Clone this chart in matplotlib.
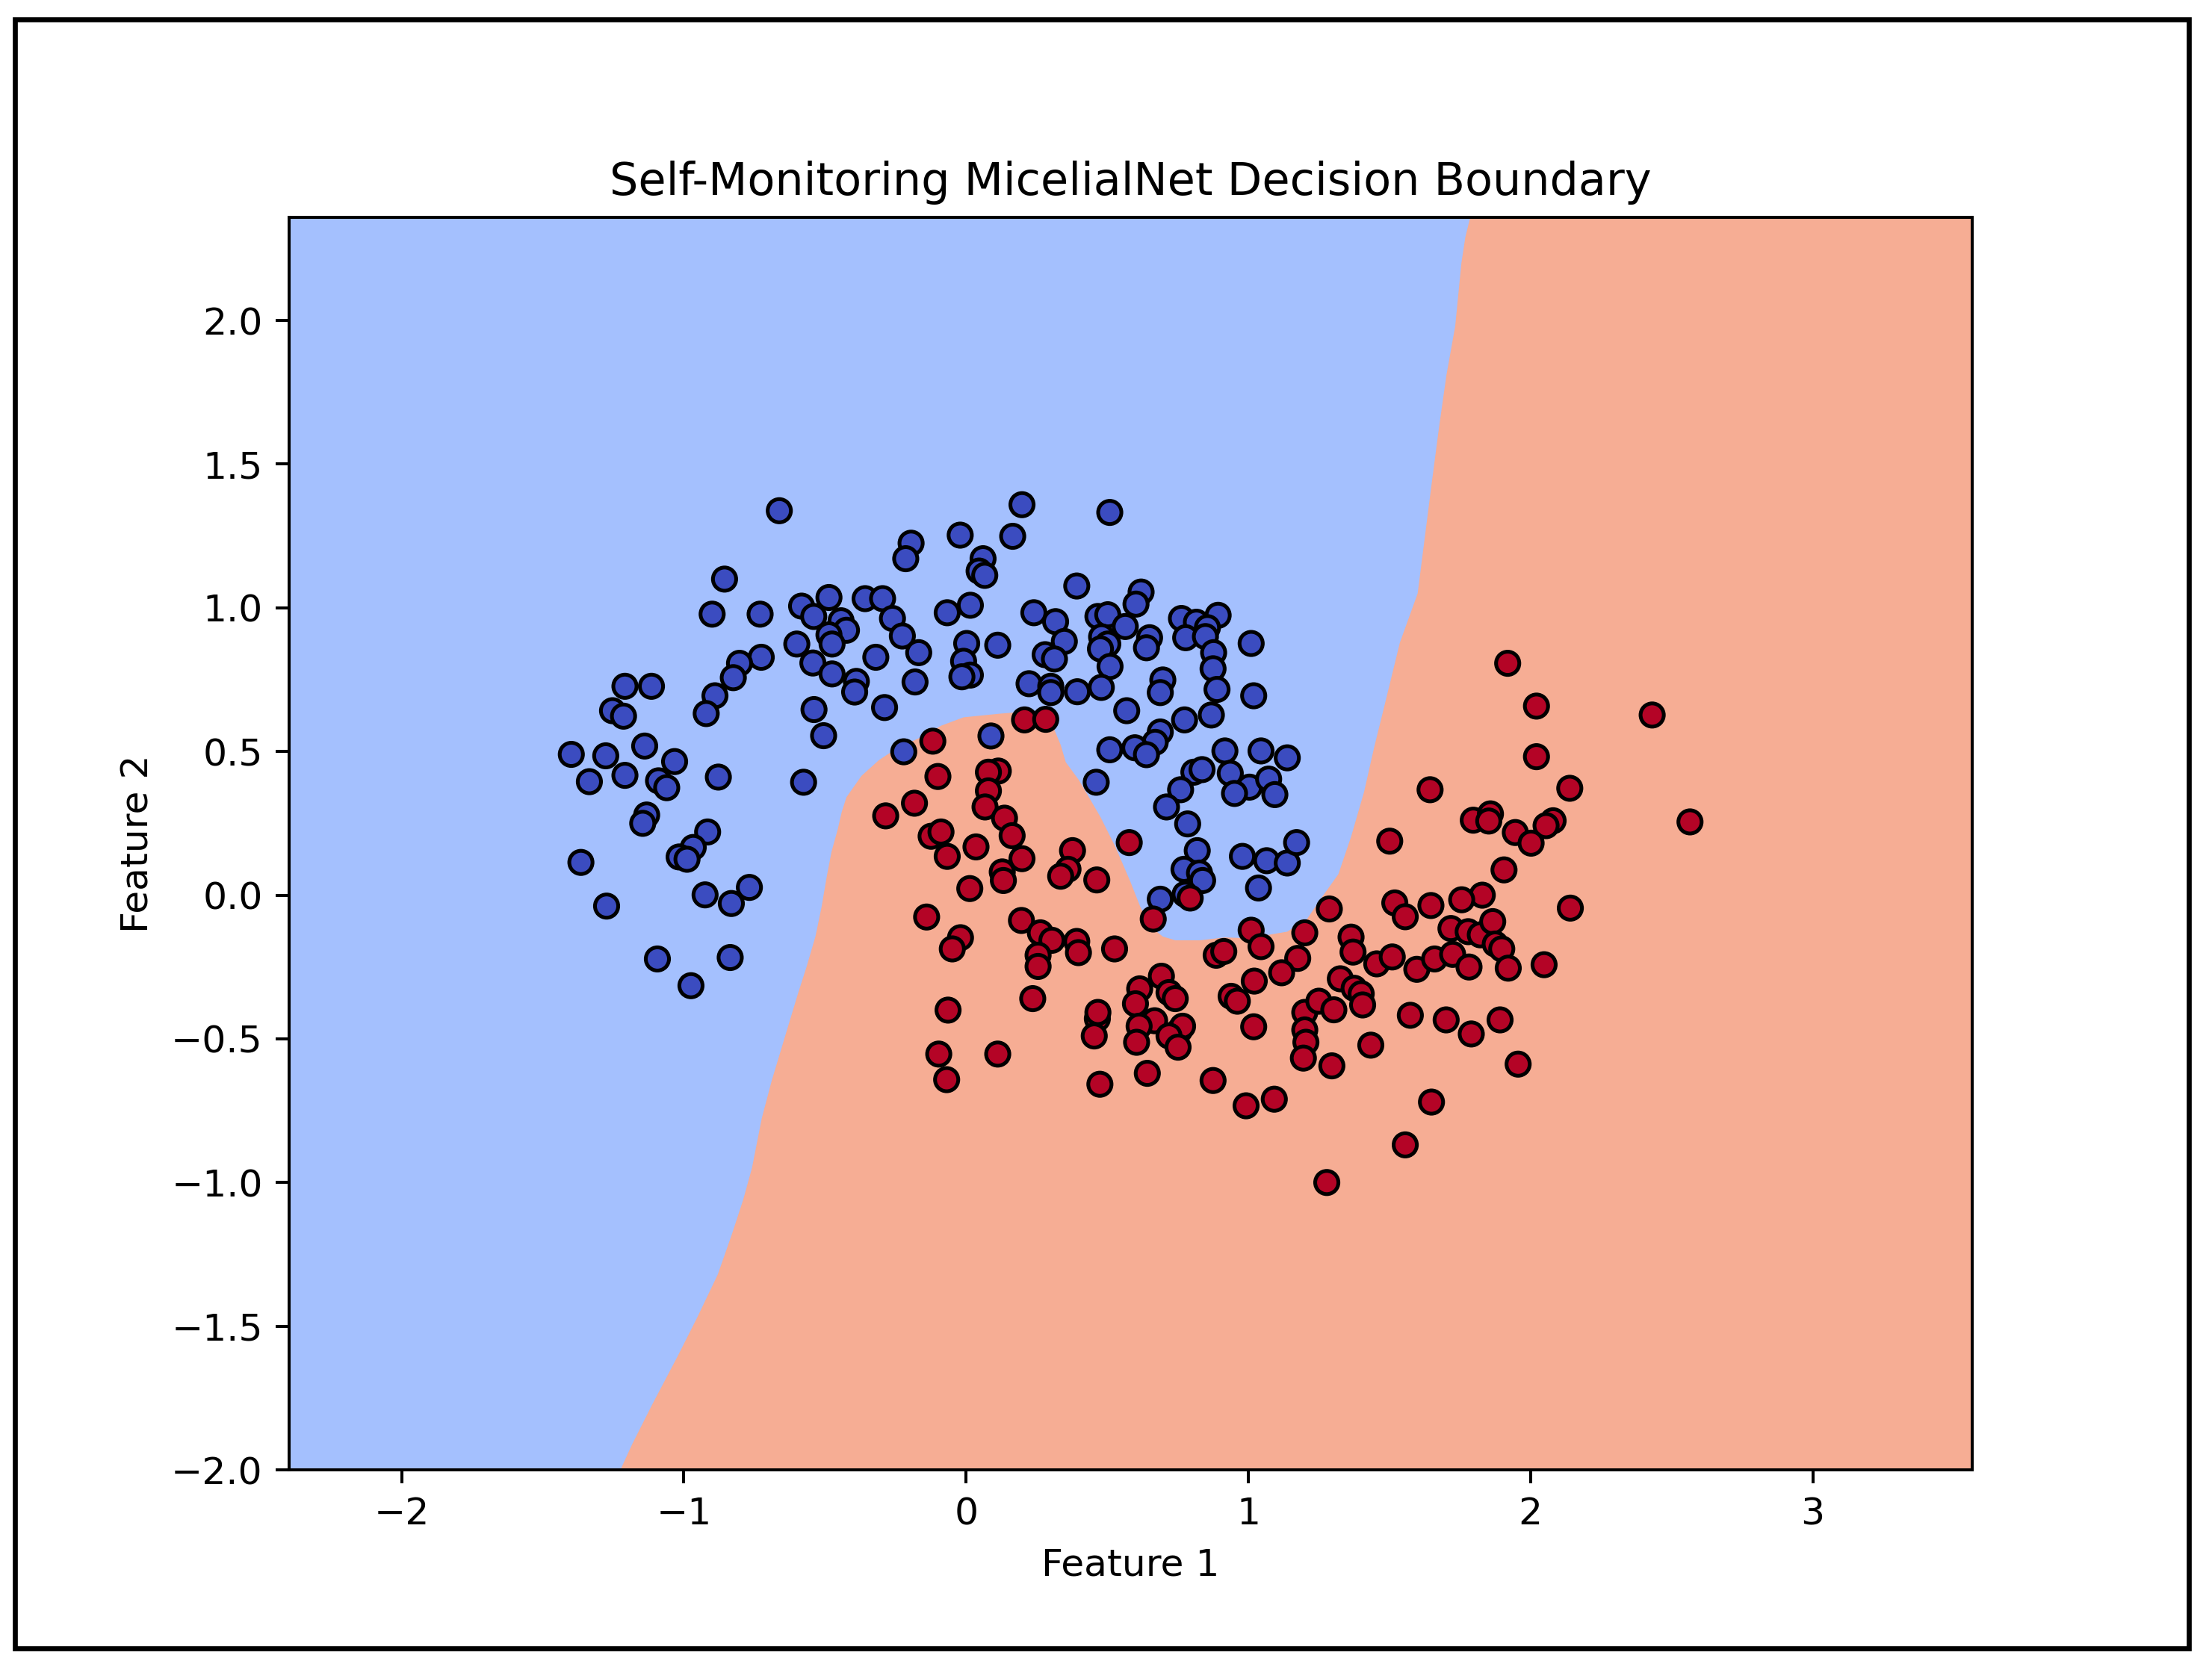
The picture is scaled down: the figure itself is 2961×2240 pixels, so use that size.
#!/usr/bin/env python
# decision boundary plot - two moons, classifier regions + samples

import numpy as np
import matplotlib
matplotlib.use("Agg")
import matplotlib.pyplot as plt
from matplotlib.patches import Rectangle

# class 0 samples (x, y)
blue_x = [-0.662, -0.195, -0.214, -0.856, -0.900, -0.730, -0.583, -0.486, -0.358, -0.296,
          -0.540, -0.443, -0.424, -0.486, -0.261, -0.226, -0.600, -0.475, -0.543, -0.475,
          -0.389, -0.395, -0.320, -0.168, -0.181, -0.289, -0.539, -0.505, -0.221, -0.726,
          -0.803, -0.825, -0.890, -0.921, -1.209, -1.115, -1.253, -1.214, -1.139, -1.399,
          -1.277, -1.033,
          -1.335, -1.209, -1.090, -1.061, -0.878, -0.576, -1.132, -1.146, -0.916, -0.967,
          -1.017, -0.989, -1.365, -0.925, -0.832, -0.768, -1.274, -1.094, -0.836, -0.975,
          0.198, 0.509, -0.021, 0.165, 0.060, 0.046, 0.066, 0.392, 0.620, 0.602,
          -0.067, 0.015, 0.240, 0.317, 0.467, 0.502, 0.564, 0.763, 0.816, 0.893,
          0.855, 0.778, 0.848, 1.010, 0.002, 0.112, 0.348, 0.480, 0.502, 0.476,
          0.650, 0.639, -0.009, 0.015, -0.015, 0.280, 0.313, 0.510, 0.877, 0.875,
          0.889, 1.019, 0.697, 0.688, 0.223, 0.300, 0.300, 0.394, 0.479, 0.569,
          0.774, 0.869, 0.688, 0.670, 0.088, 0.509, 0.598, 0.639, 0.917, 1.045,
          1.138,
          0.461, 0.807, 0.836, 0.760, 0.710, 0.936, 1.004, 0.951, 1.072, 1.094,
          0.785, 0.819, 0.772, 0.827, 0.838, 0.776, 0.688, 0.979, 1.065, 1.138,
          1.171, 1.036]
blue_y = [1.338, 1.225, 1.171, 1.100, 0.978, 0.978, 1.006, 1.036, 1.032, 1.032,
          0.970, 0.955, 0.922, 0.906, 0.963, 0.902, 0.874, 0.874, 0.808, 0.770,
          0.744, 0.707, 0.828, 0.844, 0.742, 0.653, 0.646, 0.555, 0.499, 0.828,
          0.807, 0.757, 0.694, 0.632, 0.727, 0.727, 0.642, 0.623, 0.519, 0.490,
          0.485, 0.465,
          0.395, 0.417, 0.398, 0.374, 0.411, 0.393, 0.279, 0.250, 0.220, 0.166,
          0.133, 0.125, 0.114, 0.001, -0.029, 0.027, -0.038, -0.222, -0.217, -0.315,
          1.359, 1.332, 1.253, 1.249, 1.171, 1.128, 1.113, 1.076, 1.055, 1.013,
          0.983, 1.009, 0.983, 0.952, 0.970, 0.976, 0.935, 0.963, 0.950, 0.974,
          0.931, 0.896, 0.900, 0.876, 0.876, 0.870, 0.883, 0.899, 0.874, 0.857,
          0.896, 0.861, 0.814, 0.766, 0.760, 0.837, 0.822, 0.796, 0.844, 0.788,
          0.716, 0.694, 0.749, 0.705, 0.736, 0.727, 0.705, 0.708, 0.723, 0.642,
          0.610, 0.627, 0.568, 0.532, 0.554, 0.506, 0.513, 0.489, 0.502, 0.502,
          0.478,
          0.393, 0.428, 0.437, 0.367, 0.307, 0.424, 0.376, 0.354, 0.404, 0.350,
          0.248, 0.155, 0.090, 0.077, 0.051, 0.003, -0.014, 0.135, 0.120, 0.112,
          0.183, 0.025]

# class 1 samples (x, y)
red_x = [-0.118, 0.207, 0.282, -0.285, -0.183, -0.124, -0.089, -0.067, -0.100, -0.140,
         0.578, 0.794, 0.663, 0.114, 0.079, 0.079, 0.067, 0.136, 0.163, 0.198,
         0.035, 0.128, 0.132, 0.013, 0.377, 0.361, 0.335, 0.463, 0.196, 0.263,
         0.304, 0.255, 0.255, 0.392, 0.398, 0.526, -0.020, -0.049, 0.236, -0.064,
         0.692, 0.615, 0.719, 0.600, 0.741, 1.010, 1.045, 0.886, 0.913, 1.200,
         1.175, 1.118, 1.021, 0.939, 0.961,
         -0.097, -0.069, 0.112, 0.465, 0.467, 0.454, 0.474, 0.668, 0.613, 0.604,
         0.756, 0.767, 0.719, 0.751, 0.642, 0.875, 1.019, 0.992, 1.092, 1.200,
         1.200, 1.204, 1.195,
         1.919, 2.021, 2.431, 2.021, 1.644, 2.139, 1.797, 1.858, 1.852, 1.946,
         2.080, 2.055, 2.002, 2.565, 1.501, 1.906, 1.829, 1.756, 1.647, 1.519,
         1.287, 2.141,
         1.556, 1.364, 1.371, 1.455, 1.510, 1.597, 1.660, 1.724, 1.782, 1.718,
         1.779, 1.822, 1.866, 1.875, 1.898, 1.921, 2.048, 1.326, 1.375, 1.400,
         1.405, 1.250, 1.303, 1.296, 1.434, 1.574, 1.701, 1.790, 1.892, 1.956,
         1.649, 1.556, 1.278]
red_y = [0.536, 0.610, 0.612, 0.276, 0.320, 0.205, 0.220, 0.135, 0.413, -0.076,
         0.183, -0.010, -0.083, 0.432, 0.428, 0.363, 0.307, 0.268, 0.207, 0.127,
         0.168, 0.081, 0.051, 0.023, 0.155, 0.090, 0.066, 0.053, -0.088, -0.131,
         -0.157, -0.209, -0.248, -0.161, -0.200, -0.187, -0.148, -0.187, -0.360, -0.400,
         -0.282, -0.326, -0.339, -0.378, -0.360, -0.122, -0.179, -0.209, -0.196, -0.131,
         -0.220, -0.270, -0.299, -0.352, -0.369,
         -0.553, -0.642, -0.553, -0.430, -0.408, -0.490, -0.658, -0.437, -0.456, -0.512,
         -0.471, -0.456, -0.490, -0.529, -0.620, -0.645, -0.458, -0.733, -0.710, -0.408,
         -0.469, -0.512, -0.567,
         0.807, 0.658, 0.627, 0.482, 0.367, 0.372, 0.261, 0.283, 0.258, 0.218,
         0.259, 0.242, 0.181, 0.255, 0.188, 0.088, 0.000, -0.016, -0.036, -0.027,
         -0.048, -0.045,
         -0.075, -0.146, -0.198, -0.239, -0.215, -0.258, -0.222, -0.206, -0.250, -0.116,
         -0.127, -0.138, -0.092, -0.170, -0.187, -0.254, -0.242, -0.291, -0.324, -0.343,
         -0.382, -0.369, -0.399, -0.594, -0.522, -0.418, -0.434, -0.483, -0.434, -0.588,
         -0.720, -0.869, -1.000]

# decision boundary traced from top edge down to bottom edge
bound_x = [1.795, 1.786, 1.769, 1.755, 1.733, 1.702, 1.676, 1.648, 1.600, 1.537,
           1.483, 1.446, 1.410, 1.364, 1.319, 1.255, 1.208, 1.138, 1.000, 0.917,
           0.829, 0.741, 0.697, 0.652, 0.617, 0.582, 0.529, 0.476, 0.400, 0.353,
           0.335, 0.300, 0.273, 0.229, 0.123, -0.009, -0.088, -0.170, -0.247, -0.309,
           -0.371, -0.424, -0.441, -0.455, -0.477, -0.494, -0.512, -0.534, -0.565, -0.596,
           -0.636, -0.689, -0.724, -0.759, -0.790, -0.830, -0.880, -0.953, -1.024, -1.112,
           -1.183, -1.225, -1.260]
bound_y = [2.500, 2.358, 2.290, 2.200, 1.980, 1.810, 1.630, 1.420, 1.050, 0.879,
           0.662, 0.515, 0.359, 0.203, 0.073, -0.015, -0.083, -0.127, -0.150, -0.147,
           -0.157, -0.157, -0.144, -0.109, -0.040, 0.047, 0.168, 0.272, 0.400, 0.463,
           0.523, 0.606, 0.636, 0.640, 0.632, 0.619, 0.590, 0.545, 0.510, 0.470,
           0.415, 0.341, 0.289, 0.229, 0.151, 0.064, -0.040, -0.144, -0.248, -0.343,
           -0.473, -0.646, -0.776, -0.950, -1.060, -1.180, -1.320, -1.470, -1.608, -1.772,
           -1.910, -2.000, -2.100]

X = np.column_stack([blue_x + red_x, blue_y + red_y])
labels = np.array([0] * len(blue_x) + [1] * len(red_x))

x_min, x_max = X[:, 0].min() - 1, X[:, 0].max() + 1
y_min, y_max = X[:, 1].min() - 1, X[:, 1].max() + 1

cmap = plt.cm.coolwarm
# contourf colours at alpha 0.8 on white, made opaque
blue_fill = np.array(cmap(0.25)[:3]) * 0.8 + 0.2
red_fill = np.array(cmap(0.75)[:3]) * 0.8 + 0.2

DPI = 363
fig = plt.figure(figsize=(2961 / DPI, 2240 / DPI), dpi=DPI)
ax = fig.add_axes([387 / 2961, 1 - 1968 / 2240, 2253 / 2961, 1677 / 2240])

# regions: red everywhere, blue side of the boundary on top
ax.fill([-10, 10, 10, -10], [-10, -10, 10, 10], color=red_fill, lw=0, zorder=0)
bx = [-10] + bound_x + [-10]
by = [10] + bound_y + [-10]
ax.fill(bx, by, color=blue_fill, lw=0, zorder=1)

ax.scatter(X[:, 0], X[:, 1], c=labels, cmap=cmap, edgecolors='k', s=38,
           linewidths=1.0, zorder=3)

ax.set_xlim(x_min, x_max)
ax.set_ylim(y_min, y_max)
ax.set_title("Self-Monitoring MicelialNet Decision Boundary")
ax.set_xlabel("Feature 1")
ax.set_ylabel("Feature 2")

# black frame round the figure
fig.patches.append(Rectangle((20.4 / 2961, 1 - 2206.6 / 2240), 2909.2 / 2961, 2180.2 / 2240,
                             transform=fig.transFigure, fill=False,
                             edgecolor='black', lw=1.33))

fig.savefig("out.png", dpi=DPI)
